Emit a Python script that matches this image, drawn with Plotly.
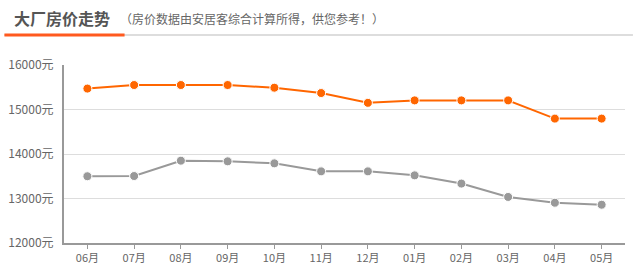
import plotly.graph_objects as go

months = ["06月", "07月", "08月", "09月", "10月", "11月", "12月", "01月", "02月", "03月", "04月", "05月"]
orange_vals = [15470, 15550, 15550, 15550, 15490, 15370, 15150, 15205, 15205, 15205, 14795, 14795]
gray_vals = [13500, 13505, 13850, 13835, 13790, 13610, 13610, 13520, 13335, 13035, 12905, 12860]
y_ticks = [12000, 13000, 14000, 15000, 16000]
y_tick_text = [f"{v}元" for v in y_ticks]

W, H = 633, 275
L, R, T, B = 60, 8, 65, 32
pw = W - L - R

def px(x):
    return (x - L) / pw

def py(y):
    return (H - B - y) / (H - T - B)

FONT = "Noto Sans CJK SC"

fig = go.Figure()
fig.add_trace(go.Scatter(
    x=months, y=orange_vals, mode="lines+markers",
    line=dict(color="#ff6600", width=2),
    marker=dict(color="#ff6600", size=9, line=dict(color="#ffffff", width=1)),
    hoverinfo="x+y", showlegend=False))
fig.add_trace(go.Scatter(
    x=months, y=gray_vals, mode="lines+markers",
    line=dict(color="#999999", width=2),
    marker=dict(color="#999999", size=9, line=dict(color="#ffffff", width=1)),
    hoverinfo="x+y", showlegend=False))

fig.update_layout(
    width=W, height=H,
    margin=dict(l=L, r=R, t=T, b=B),
    paper_bgcolor="white", plot_bgcolor="white",
    font=dict(family=FONT, color="#666666", size=12),
    xaxis=dict(
        type="category", range=[-0.5, len(months) - 0.5],
        showline=True, linecolor="#999999", linewidth=2,
        ticks="outside", ticklen=4, tickcolor="#999999", tickwidth=1,
        showgrid=False, tickfont=dict(size=11, color="#666666"),
        fixedrange=True,
    ),
    yaxis=dict(
        range=[12000, 16000], tickvals=y_ticks, ticktext=y_tick_text,
        showline=True, linecolor="#999999", linewidth=2,
        showgrid=True, gridcolor="#dddddd", gridwidth=1,
        zeroline=False, ticks="", ticklabelstandoff=6,
        tickfont=dict(size=12, color="#666666"),
        fixedrange=True,
    ),
    shapes=[
        dict(type="rect", xref="paper", yref="paper", x0=px(0), x1=px(W), y0=py(36), y1=py(34),
             line=dict(width=0), fillcolor="#dddddd"),
        dict(type="rect", xref="paper", yref="paper", x0=px(0), x1=px(121), y0=py(36.5), y1=py(33.5),
             line=dict(width=0), fillcolor="#ff5a1f"),
    ],
    annotations=[
        dict(text="<b>大厂房价走势</b>", xref="paper", yref="paper", x=px(9), y=py(17.5),
             xanchor="left", yanchor="middle", showarrow=False, borderpad=0,
             font=dict(size=16, color="#555555", family=FONT)),
        dict(text="（房价数据由安居客综合计算所得，供您参考！）", xref="paper", yref="paper",
             x=px(115), y=py(18.5), xanchor="left", yanchor="middle", showarrow=False, borderpad=0,
             font=dict(size=12, color="#666666", family=FONT)),
    ],
)

fig.write_html("out.html")
